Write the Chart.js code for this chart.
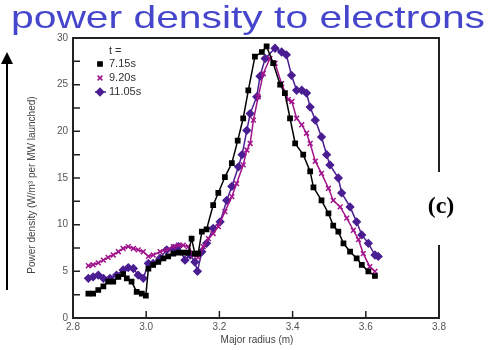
<!DOCTYPE html>
<html>
<head>
<meta charset="utf-8">
<script src="https://cdn.jsdelivr.net/npm/chart.js@4/dist/chart.umd.min.js"></script>
<style>
  html, body { margin: 0; padding: 0; background: #fff; }
  #wrap { position: relative; width: 493px; height: 350px; }
</style>
</head>
<body>
<div id="wrap"><canvas id="pd" width="493" height="350"></canvas></div>
<script>
// power density profiles vs major radius, three times
const r715 = [2.842,2.855,2.869,2.883,2.896,2.910,2.924,2.937,2.947,2.960,2.974,2.988,2.999,3.006,3.019,3.033,3.047,3.060,3.074,3.088,3.101,3.115,3.124,3.133,3.142,3.152,3.165,3.183,3.197,3.215,3.234,3.250,3.265,3.279,3.297,3.316,3.329,3.347,3.366,3.379,3.393,3.407,3.429,3.448,3.457,3.479,3.498,3.511,3.525,3.539,3.557,3.575,3.589,3.607,3.625];
const p715 = [2.6,2.6,3.0,3.4,3.9,3.9,4.4,4.7,4.25,3.9,2.8,2.6,2.4,5.3,5.7,6.0,6.4,6.6,6.9,7.0,7.0,7.0,8.5,6.9,6.9,9.25,9.5,12.1,13.4,15.1,16.6,19.0,21.4,24.4,28.0,28.5,29.1,27.3,25.0,24.1,21.4,18.7,17.5,15.7,14.0,12.6,11.2,9.9,9.25,8.0,7.1,6.4,5.7,5.0,4.5];

const r920 = [2.842,2.855,2.869,2.883,2.896,2.910,2.924,2.937,2.951,2.965,2.978,2.992,3.006,3.019,3.038,3.056,3.074,3.088,3.101,3.115,3.129,3.142,3.156,3.170,3.183,3.197,3.215,3.234,3.247,3.265,3.275,3.284,3.293,3.306,3.320,3.338,3.352,3.370,3.388,3.398,3.411,3.425,3.438,3.448,3.462,3.479,3.498,3.511,3.530,3.548,3.566,3.580,3.593,3.611,3.625];
const p920 = [5.6,5.7,5.9,6.2,6.5,6.75,7.1,7.45,7.65,7.45,7.3,7.1,6.6,6.75,7.1,7.3,7.65,7.8,7.8,7.65,6.75,6.5,7.65,8.5,9.05,9.8,11.4,13.0,14.4,16.4,18.0,18.7,21.2,23.7,26.2,27.8,27.3,25.1,23.4,23.2,21.4,20.7,19.8,18.7,16.8,15.5,13.9,12.6,11.9,10.7,9.4,8.4,6.9,5.5,5.0];

const r1105 = [2.842,2.855,2.869,2.883,2.901,2.919,2.937,2.951,2.965,2.978,2.992,3.006,3.019,3.038,3.056,3.074,3.088,3.106,3.120,3.133,3.140,3.152,3.165,3.183,3.202,3.220,3.234,3.252,3.262,3.275,3.284,3.302,3.311,3.325,3.352,3.370,3.383,3.397,3.411,3.425,3.438,3.448,3.462,3.479,3.493,3.502,3.525,3.534,3.557,3.575,3.589,3.607,3.625,3.634];
const p1105 = [4.25,4.4,4.6,4.25,4.25,4.6,5.15,5.4,5.3,4.6,4.25,5.85,5.85,6.4,7.3,7.45,7.65,6.2,6.75,6.0,5.0,7.1,8.0,9.6,10.3,12.6,14.1,16.2,17.5,20.1,21.9,23.7,25.9,27.8,28.9,28.5,28.2,26.0,24.4,24.4,24.1,22.6,21.2,19.4,17.5,16.4,15.0,13.4,11.9,10.3,8.9,8.0,6.75,6.6];

const seriesNames = ['7.15s', '9.20s', '11.05s'];
const xTicks = [2.8, 3.0, 3.2, 3.4, 3.6, 3.8];
const yTicks = [0, 5, 10, 15, 20, 25, 30];

const toPts = (xs, ys) => xs.map((x, i) => ({ x: x, y: ys[i] }));

const colors = ['#000000', '#a0148c', '#4a1e92'];
const shapes = ['rect', 'crossRot', 'rectRot'];
const sizes = [3, 3.4, 3.6];

// frame, inward ticks, arrow, titles and inset legend
const decor = {
  id: 'decor',
  afterDraw(chart) {
    const ctx = chart.ctx;
    const a = chart.chartArea;
    const xs = chart.scales.x, ys = chart.scales.y;
    ctx.save();

    // box around plot
    ctx.strokeStyle = '#222';
    ctx.lineWidth = 2;
    ctx.strokeRect(a.left, a.top, a.right - a.left, a.bottom - a.top);

    // inward ticks
    ctx.lineWidth = 1.5;
    ctx.beginPath();
    for (let v = 0; v <= 30; v += 2.5) {
      const py = ys.getPixelForValue(v);
      ctx.moveTo(a.left, py);
      ctx.lineTo(a.left + 7, py);
    }
    xTicks.forEach(v => {
      const px = xs.getPixelForValue(v);
      ctx.moveTo(px, a.bottom);
      ctx.lineTo(px, a.bottom - 7);
    });
    ctx.stroke();

    // title, stretched wide
    const title = 'power density to electrons';
    ctx.fillStyle = '#4646cc';
    ctx.font = '32px "Liberation Sans", Arial, sans-serif';
    ctx.textAlign = 'left';
    ctx.textBaseline = 'alphabetic';
    const tw = ctx.measureText(title).width;
    ctx.save();
    ctx.translate(11, 28);
    ctx.scale(474 / tw, 1);
    ctx.fillText(title, 0, 0);
    ctx.restore();

    // arrow on the left
    ctx.strokeStyle = '#000';
    ctx.fillStyle = '#000';
    ctx.lineWidth = 2;
    ctx.beginPath();
    ctx.moveTo(7, 290);
    ctx.lineTo(7, 60);
    ctx.stroke();
    ctx.beginPath();
    ctx.moveTo(7, 52);
    ctx.lineTo(1, 64);
    ctx.lineTo(13, 64);
    ctx.closePath();
    ctx.fill();

    // y axis title
    ctx.save();
    ctx.translate(32, 185);
    ctx.rotate(-Math.PI / 2);
    ctx.fillStyle = '#444';
    ctx.font = '10px "Liberation Sans", Arial, sans-serif';
    ctx.textAlign = 'center';
    ctx.textBaseline = 'middle';
    ctx.fillText('Power density (W/m\u00b3 per MW launched)', 0, 0);
    ctx.restore();

    // x axis title
    ctx.fillStyle = '#444';
    ctx.font = '10px "Liberation Sans", Arial, sans-serif';
    ctx.textAlign = 'center';
    ctx.textBaseline = 'middle';
    ctx.fillText('Major radius (m)', 257, 340);

    // legend inside the plot
    ctx.font = '11px "Liberation Sans", Arial, sans-serif';
    ctx.textAlign = 'left';
    ctx.fillStyle = '#333';
    ctx.fillText('t =', 109, 51);
    const ly = [64, 78, 92];
    seriesNames.forEach((name, i) => {
      const ds = chart.data.datasets[i];
      ctx.strokeStyle = ds.borderColor;
      ctx.fillStyle = ds.backgroundColor;
      ctx.lineWidth = 1.5;
      if (i === 2) {
        ctx.beginPath();
        ctx.moveTo(95, ly[i]);
        ctx.lineTo(106, ly[i]);
        ctx.stroke();
      }
      Chart.helpers.drawPoint(ctx, { pointStyle: shapes[i], radius: sizes[i], borderWidth: 1.5, rotation: 0 }, 100, ly[i]);
      ctx.fillStyle = '#333';
      ctx.fillText(name, 109, ly[i]);
    });

    // panel tag
    ctx.fillStyle = '#fff';
    ctx.fillRect(405, 172, 60, 73);
    ctx.fillStyle = '#000';
    ctx.font = 'bold 24px "Liberation Serif", "Times New Roman", serif';
    ctx.textAlign = 'center';
    ctx.fillText('(c)', 441, 207);

    ctx.restore();
  }
};

const makeSet = (i, xs, ys) => ({
  label: seriesNames[i],
  data: toPts(xs, ys),
  borderColor: colors[i],
  backgroundColor: colors[i],
  borderWidth: 1.5,
  pointStyle: shapes[i],
  pointRadius: sizes[i],
  pointBorderWidth: 1.5,
  tension: 0
});

new Chart(document.getElementById('pd'), {
  type: 'line',
  data: {
    datasets: [
      makeSet(0, r715, p715),
      makeSet(1, r920, p920),
      makeSet(2, r1105, p1105)
    ]
  },
  options: {
    responsive: false,
    animation: false,
    layout: { padding: { left: 0, right: 54, top: 38, bottom: 0 } },
    plugins: { legend: { display: false }, tooltip: { enabled: false } },
    scales: {
      x: {
        type: 'linear',
        min: 2.8,
        max: 3.8,
        afterBuildTicks: s => { s.ticks = xTicks.map(v => ({ value: v })); },
        afterFit: s => { s.height = 32; },
        grid: { display: false, drawTicks: false },
        border: { display: false },
        ticks: {
          color: '#555',
          font: { size: 10, family: '"Liberation Sans", Arial, sans-serif' },
          padding: 3,
          maxRotation: 0,
          callback: v => v.toFixed(1)
        }
      },
      y: {
        min: 0,
        max: 30,
        afterBuildTicks: s => { s.ticks = yTicks.map(v => ({ value: v })); },
        afterFit: s => { s.width = 73; },
        grid: { display: false, drawTicks: false },
        border: { display: false },
        ticks: {
          color: '#555',
          font: { size: 10, family: '"Liberation Sans", Arial, sans-serif' },
          padding: 5
        }
      }
    }
  },
  plugins: [decor]
});
</script>
</body>
</html>
